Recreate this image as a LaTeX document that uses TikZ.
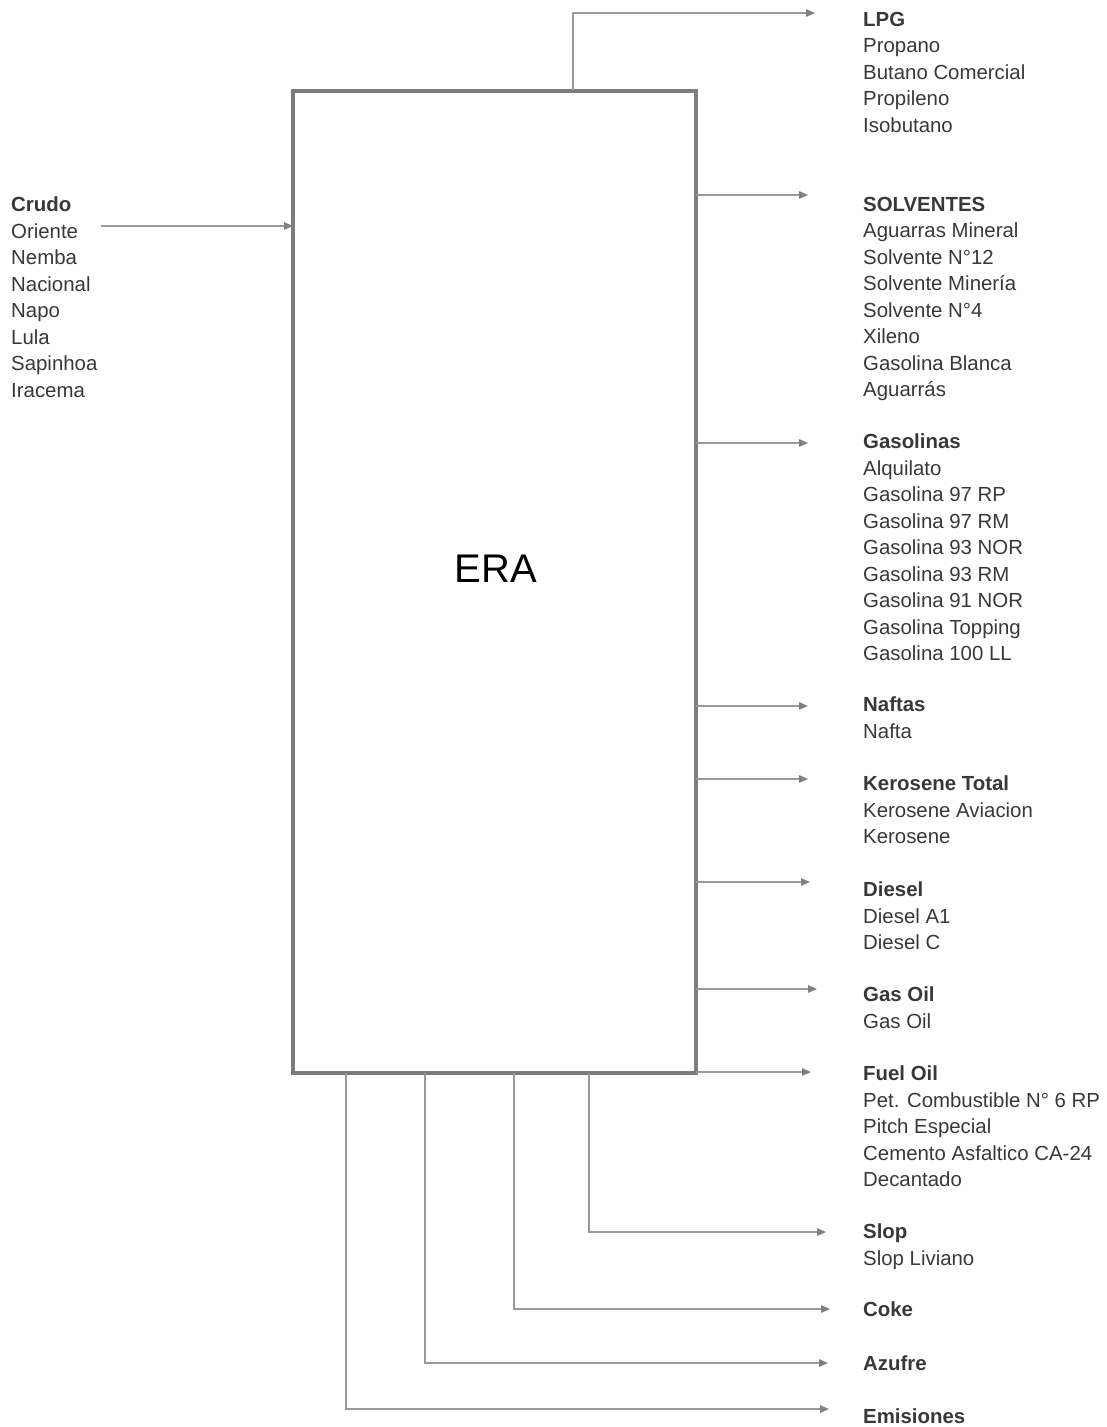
\documentclass[tikz,border=0pt]{standalone}
\usepackage{fontspec}
\setmainfont{Liberation Sans}
\usetikzlibrary{arrows.meta}
\definecolor{txt}{HTML}{383838}
\definecolor{boxc}{HTML}{7C7C7C}
\definecolor{linec}{HTML}{999999}
\definecolor{tipc}{HTML}{808080}
\begin{document}
\begin{tikzpicture}[x=1pt,y=-1pt,
  lst/.style={anchor=north west, inner sep=0pt, align=left, text=txt,
    font=\fontsize{20.4}{26.5}\selectfont},
  arr/.style={draw=linec, line width=1.4pt,
    -{Triangle[length=9pt,width=7.5pt,fill=tipc,color=tipc]}},
  procbox/.style={draw=boxc, line width=3.2pt, inner sep=0pt, outer sep=0pt,
    minimum width=403pt, minimum height=982pt}]
\useasboundingbox (0,0) rectangle (1107,1427);

% main box
\node[procbox] (era) at (494.5,582) {};
\node[anchor=base, inner sep=0pt, font=\fontsize{40}{48}\selectfont] (eralabel) at (496,582) {ERA};

% input
\node[lst] (crudo) at (11,196.7) {\textbf{Crudo}\\Oriente\\Nemba\\Nacional\\Napo\\Lula\\Sapinhoa\\Iracema};
\coordinate (crudoS) at (101,226);
\draw[arr] (crudoS) -- ([yshift=-135pt]era.north west);

% outputs text
\node[lst] (lpg) at (863,11.7) {\textbf{LPG}\\Propano\\Butano Comercial\\Propileno\\Isobutano};
\node[lst] (solv) at (863,196.7) {\textbf{SOLVENTES}\\Aguarras Mineral\\Solvente N°12\\Solvente Minería\\Solvente N°4\\Xileno\\Gasolina Blanca\\Aguarrás};
\node[lst] (gaso) at (863,433.7) {\textbf{Gasolinas}\\Alquilato\\Gasolina 97 RP\\Gasolina 97 RM\\Gasolina 93 NOR\\Gasolina 93 RM\\Gasolina 91 NOR\\Gasolina Topping\\Gasolina 100 LL};
\node[lst] (naf) at (863,696.7) {\textbf{Naftas}\\Nafta};
\node[lst] (ker) at (863,775.7) {\textbf{Kerosene Total}\\Kerosene Aviacion\\Kerosene};
\node[lst] (die) at (863,881.7) {\textbf{Diesel}\\Diesel A1\\Diesel C};
\node[lst] (gasoil) at (863,986.7) {\textbf{Gas Oil}\\Gas Oil};
\node[lst] (fuel) at (863,1065.7) {\textbf{Fuel Oil}\\Pet. Combustible N° 6 RP\\Pitch Especial\\Cemento Asfaltico CA-24\\Decantado};
\node[lst] (slop) at (863,1223.7) {\textbf{Slop}\\Slop Liviano};
\node[lst] (coke) at (863,1301.7) {\textbf{Coke}};
\node[lst] (azu) at (863,1355.7) {\textbf{Azufre}};
\node[lst] (emi) at (863,1408.7) {\textbf{Emisiones}};

% arrow end points
\coordinate (lpgE) at (815,13);
\coordinate (solE) at (808,195);
\coordinate (gasE) at (808,443);
\coordinate (nafE) at (808,706);
\coordinate (kerE) at (808,779);
\coordinate (dieE) at (810,882);
\coordinate (goE) at (817,989);
\coordinate (foE) at (811,1072);
\coordinate (slopE) at (826,1232);
\coordinate (cokeE) at (830,1309);
\coordinate (azuE) at (828,1363);
\coordinate (emiE) at (829,1409);

% output arrows
\draw[arr] ([xshift=280pt]era.north west) |- (lpgE);
\draw[arr] ([yshift=-104pt]era.north east) -- (solE);
\draw[arr] ([yshift=-352pt]era.north east) -- (gasE);
\draw[arr] ([yshift=-615pt]era.north east) -- (nafE);
\draw[arr] ([yshift=-688pt]era.north east) -- (kerE);
\draw[arr] ([yshift=-791pt]era.north east) -- (dieE);
\draw[arr] ([yshift=-898pt]era.north east) -- (goE);
\draw[arr] ([yshift=-981pt]era.north east) -- (foE);
\draw[arr] ([xshift=296pt]era.south west) |- (slopE);
\draw[arr] ([xshift=221pt]era.south west) |- (cokeE);
\draw[arr] ([xshift=132pt]era.south west) |- (azuE);
\draw[arr] ([xshift=53pt]era.south west) |- (emiE);
\end{tikzpicture}
\end{document}
